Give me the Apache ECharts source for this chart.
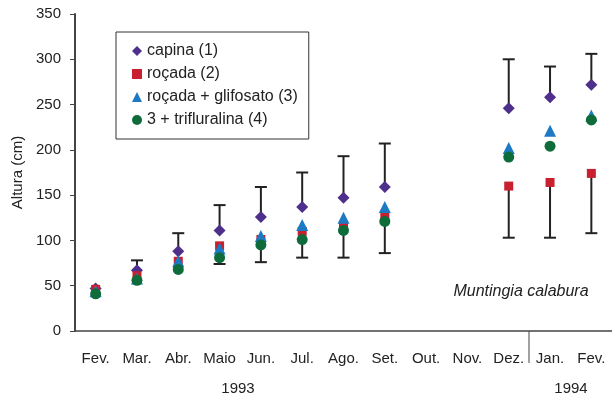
<!DOCTYPE html>
<html>
<head>
<meta charset="utf-8">
<script src="https://cdn.jsdelivr.net/npm/echarts@6/dist/echarts.min.js"></script>
<style>
  html, body { margin: 0; padding: 0; background: #fff; }
  #chart { width: 612px; height: 398px; }
</style>
</head>
<body>
<div id="chart"></div>
<script>
  // months, Feb 1993 to Feb 1994
  var months = ['Fev.', 'Mar.', 'Abr.', 'Maio', 'Jun.', 'Jul.', 'Ago.', 'Set.', 'Out.', 'Nov.', 'Dez.', 'Jan.', 'Fev.']
  var capina      = [47, 67, 88, 111, 126, 137, 147, 159, null, null, 246, 258, 272]
  var rocada      = [46, 61, 77, 94, 101, 110, 115, 126, null, null, 160, 164, 174]
  var glifosato   = [44, 58, 77, 91, 105, 117, 125, 137, null, null, 202, 221, 238]
  var trifluralina = [41, 56, 68, 81, 95, 101, 111, 121, null, null, 192, 204, 233]
  // error bar ends: upper (above capina) and lower (below roçada)
  var errHigh = [null, 78, 108, 139, 159, 175, 193, 207, null, null, 300, 292, 306]
  var errLow  = [null, null, null, 74, 76, 81, 81, 86, null, null, 103, 103, 108]
  var years = ['1993', '1994']

  var font = 'Liberation Sans, Arial, sans-serif'
  var txt = '#222'

  var errData = []
  for (var i = 0; i < months.length; i++) {
    if (errHigh[i] != null || errLow[i] != null) {
      errData.push([i, capina[i], errHigh[i], rocada[i], errLow[i]])
    }
  }

  var myChart = echarts.init(document.getElementById('chart'))

  function bar(api, x, y1, y2, cap) {
    var a = api.coord([x, y1])
    var b = api.coord([x, y2])
    var st = { stroke: '#222', lineWidth: 2 }
    return [
      { type: 'line', shape: { x1: a[0], y1: a[1], x2: b[0], y2: b[1] }, style: st },
      { type: 'line', shape: { x1: b[0] - cap, y1: b[1], x2: b[0] + cap, y2: b[1] }, style: st }
    ]
  }

  myChart.setOption({
    animation: false,
    textStyle: { fontFamily: font },
    grid: { left: 75, top: 14, width: 543, height: 317 },
    legend: {
      left: 116, top: 32,
      orient: 'vertical',
      padding: [11, 11, 11, 16],
      borderColor: '#333', borderWidth: 1,
      itemWidth: 10, itemHeight: 10, itemGap: 7,
      textStyle: { fontSize: 16, color: txt, fontFamily: font },
      data: [
        { name: 'capina (1)', icon: 'diamond' },
        { name: 'roçada (2)', icon: 'rect' },
        { name: 'roçada + glifosato (3)', icon: 'triangle' },
        { name: '3 + trifluralina (4)', icon: 'circle' }
      ]
    },
    xAxis: {
      type: 'category',
      data: months,
      boundaryGap: true,
      axisLine: { lineStyle: { color: '#444', width: 1.5 } },
      axisTick: { interval: 0, length: 5, lineStyle: { color: '#444' } },
      axisLabel: { interval: 0, fontSize: 15, color: txt, margin: 20, fontFamily: font }
    },
    yAxis: {
      type: 'value',
      min: 0, max: 350, interval: 50,
      name: 'Altura (cm)',
      nameLocation: 'middle',
      nameGap: 50,
      nameTextStyle: { fontSize: 15, color: txt, fontFamily: font },
      splitLine: { show: false },
      axisLine: { show: true, lineStyle: { color: '#444', width: 2 } },
      axisTick: { show: true, length: 5, lineStyle: { color: '#444' } },
      axisLabel: { fontSize: 15, color: txt, margin: 14, fontFamily: font }
    },
    series: [
      {
        type: 'custom',
        z: 1,
        data: errData,
        renderItem: function (params, api) {
          var x = api.value(0)
          var kids = []
          if (errData[params.dataIndex][2] != null) kids = kids.concat(bar(api, x, api.value(1), api.value(2), 6))
          if (errData[params.dataIndex][4] != null) kids = kids.concat(bar(api, x, api.value(3), api.value(4), 6))
          return { type: 'group', children: kids }
        }
      },
      { name: 'capina (1)', type: 'scatter', z: 5, symbol: 'diamond', symbolSize: 12,
        itemStyle: { color: '#4f2f8c', opacity: 1 }, data: capina },
      { name: 'roçada (2)', type: 'scatter', z: 5, symbol: 'rect', symbolSize: 9,
        itemStyle: { color: '#c8202f', opacity: 1 }, data: rocada },
      { name: 'roçada + glifosato (3)', type: 'scatter', z: 5, symbol: 'triangle', symbolSize: 12,
        itemStyle: { color: '#1b7ac3', opacity: 1 }, data: glifosato },
      { name: '3 + trifluralina (4)', type: 'scatter', z: 5, symbol: 'circle', symbolSize: 11,
        itemStyle: { color: '#0e6b3a', opacity: 1 }, data: trifluralina }
    ]
  })

  // year separator between Dez. and Jan., year labels and species name
  var pDez = myChart.convertToPixel({ xAxisIndex: 0 }, 'Dez.')
  var pJan = myChart.convertToPixel({ xAxisIndex: 0 }, 'Jan.')
  var sepX = Math.round((pDez + pJan) / 2)
  var axisY = myChart.convertToPixel({ yAxisIndex: 0 }, 0)
  myChart.setOption({
    graphic: [
      { type: 'line', shape: { x1: sepX, y1: axisY, x2: sepX, y2: axisY + 32 },
        style: { stroke: '#444', lineWidth: 1 } },
      { type: 'text', x: 238, y: 389, style: { text: years[0], font: '15px ' + font, fill: txt, align: 'center', verticalAlign: 'middle' } },
      { type: 'text', x: 571, y: 389, style: { text: years[1], font: '15px ' + font, fill: txt, align: 'center', verticalAlign: 'middle' } },
      { type: 'text', x: 521, y: 292, style: { text: 'Muntingia calabura', font: 'italic 16px ' + font, fill: txt, align: 'center', verticalAlign: 'middle' } }
    ]
  })
</script>
</body>
</html>
